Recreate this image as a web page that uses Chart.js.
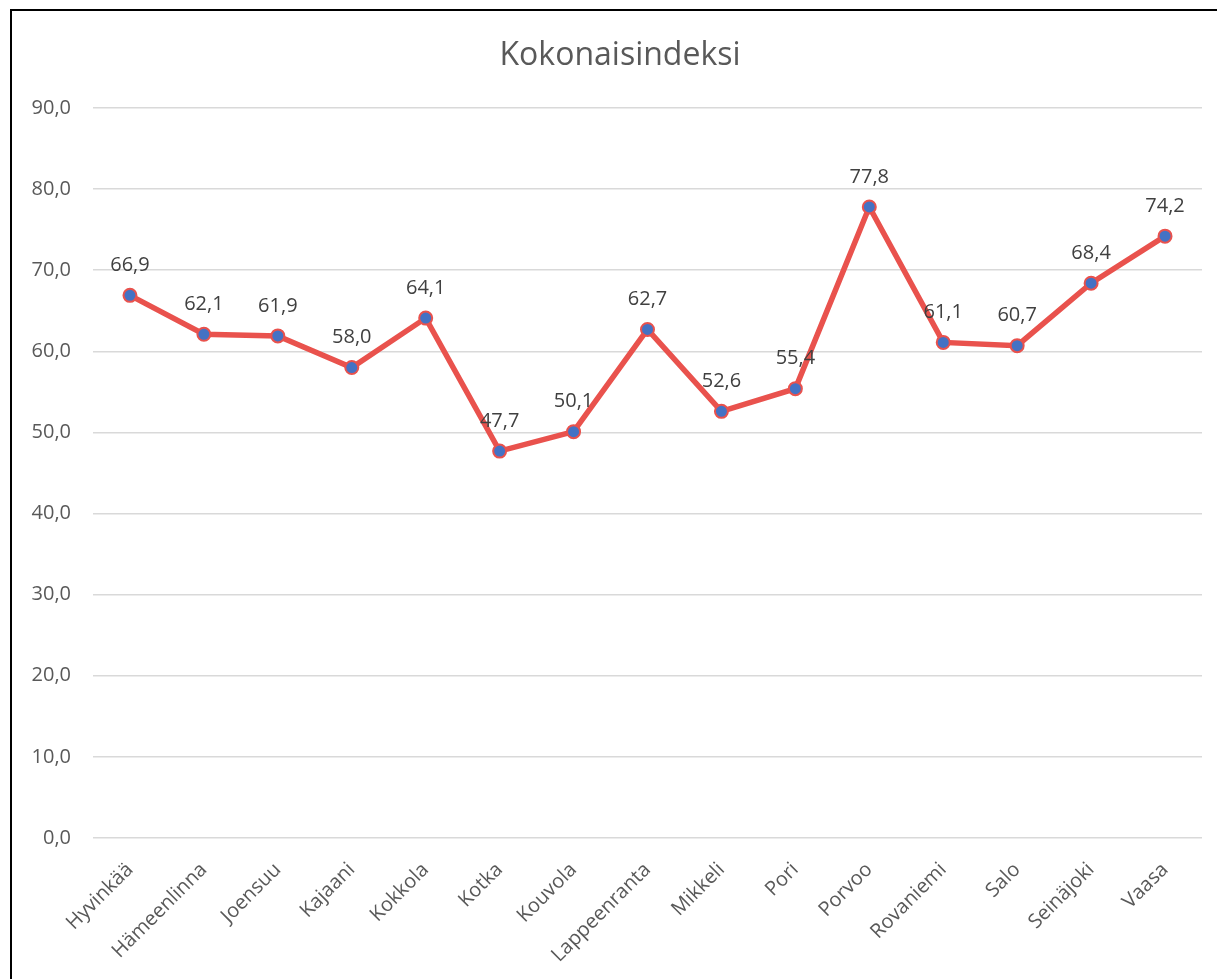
<!DOCTYPE html>
<html>
<head>
<meta charset="utf-8">
<script src="https://cdn.jsdelivr.net/npm/chart.js@4"></script>
<style>
  body { margin: 0; background: #fff; }
  #box {
    position: absolute; left: 10px; top: 9px;
    width: 1207px; height: 970px;
    border-top: 2px solid #000; border-left: 2px solid #000;
  }
</style>
</head>
<body>
<div id="box"><canvas id="plot"></canvas></div>
<script>
const chartTitle = 'Kokonaisindeksi';
const cities = ['Hyvinkää', 'Hämeenlinna', 'Joensuu', 'Kajaani', 'Kokkola', 'Kotka', 'Kouvola',
  'Lappeenranta', 'Mikkeli', 'Pori', 'Porvoo', 'Rovaniemi', 'Salo', 'Seinäjoki', 'Vaasa'];
const indexValues = [66.9, 62.1, 61.9, 58.0, 64.1, 47.7, 50.1, 62.7, 52.6, 55.4, 77.8, 61.1, 60.7, 68.4, 74.2];

const fmt = v => v.toFixed(1).replace('.', ',');

// values above points, like excel data labels + the title (centered on the whole frame)
const pointLabels = {
  id: 'pointLabels',
  afterDatasetsDraw(chart) {
    const ctx = chart.ctx;
    const meta = chart.getDatasetMeta(0);
    ctx.save();
    ctx.font = '20px "Open Sans"';
    ctx.fillStyle = '#404040';
    ctx.textAlign = 'center';
    ctx.textBaseline = 'middle';
    meta.data.forEach((pt, i) => {
      ctx.fillText(fmt(indexValues[i]), pt.x, pt.y - 30);
    });
    ctx.font = '32px "Open Sans"';
    ctx.fillStyle = '#595959';
    ctx.fillText(chartTitle, 608, 45);
    ctx.restore();
  }
};

const ctx = document.getElementById('plot').getContext('2d');
const chart = new Chart(ctx, {
  type: 'line',
  data: {
    labels: cities,
    datasets: [{
      label: chartTitle,
      data: indexValues,
      borderColor: '#E9524D',
      borderWidth: 5.5,
      backgroundColor: '#4472C4',
      pointBackgroundColor: '#4472C4',
      pointBorderColor: '#E9524D',
      pointBorderWidth: 2,
      pointRadius: 6.5,
      tension: 0
    }]
  },
  options: {
    responsive: true,
    maintainAspectRatio: false,
    animation: false,
    layout: { padding: { left: 0, right: 17, top: 97, bottom: 0 } },
    scales: {
      y: {
        min: 0,
        max: 90,
        ticks: {
          stepSize: 10,
          padding: 22,
          color: '#595959',
          font: { family: 'Open Sans', size: 20 },
          callback: v => fmt(v)
        },
        grid: { color: '#D9D9D9', lineWidth: 1.5, drawTicks: false },
        border: { display: false },
        afterFit: s => { s.width = 81; }
      },
      x: {
        offset: true,
        ticks: {
          minRotation: 45,
          maxRotation: 45,
          padding: 12,
          color: '#595959',
          font: { family: 'Open Sans', size: 20 }
        },
        grid: { display: false },
        border: { display: false },
        afterFit: s => { s.height = 143; }
      }
    },
    plugins: {
      legend: { display: false },
      tooltip: { enabled: false },
      title: { display: false }
    }
  },
  plugins: [pointLabels]
});
</script>
</body>
</html>
